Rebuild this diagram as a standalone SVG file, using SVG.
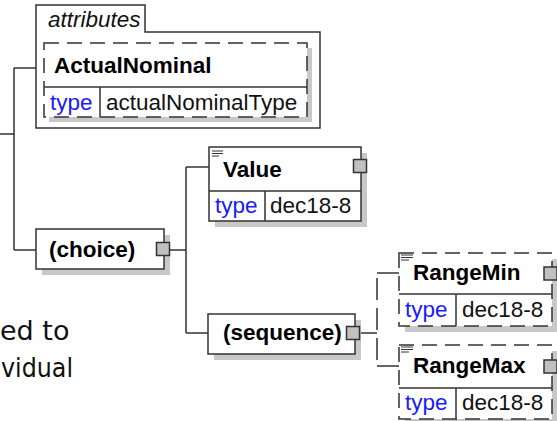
<svg xmlns="http://www.w3.org/2000/svg" width="557" height="421" viewBox="0 0 557 421">
<style>
.box{fill:#fff;stroke:#333;stroke-width:1.5}
.dbox{fill:#fff;stroke:#333;stroke-width:1.5;stroke-dasharray:15,8}
.shadow{fill:#c8c8c8;stroke:none}
.ln{fill:none;stroke:#333;stroke-width:1.5}
.dln{fill:none;stroke:#333;stroke-width:1.5;stroke-dasharray:22,8}
.sq{fill:#c0c0c0;stroke:#333;stroke-width:1.5}
.name{font-family:"Liberation Sans",Arial,sans-serif;font-weight:bold;font-size:22.5px;fill:#000}
.lbl{font-family:"Liberation Sans",Arial,sans-serif;font-size:22.5px;fill:#1a1aff}
.val{font-family:"Liberation Sans",Arial,sans-serif;font-size:22.5px;fill:#111}
.ital{font-family:"Liberation Sans",Arial,sans-serif;font-style:italic;font-size:22.5px;fill:#111}
.bg{font-family:"DejaVu Sans",Verdana,sans-serif;font-size:27px;fill:#111}
.ico{stroke:#333;stroke-width:1}
</style>

<g id="connectors">
  <path class="ln" d="M0,134 H14 M14,68 V250 M14,68 H36 M14,250 H36"/>
  <path class="ln" d="M170,250 H186 M186,167 V333 M186,167 H209 M186,333 H208"/>
  <path class="ln" d="M361,333 H377 M377,273 H399 M377,366 H399"/>
  <path class="dln" d="M377,273 V366" stroke-dashoffset="-5"/>
</g>

<g id="attributes">
  <path class="box" d="M36,128 V5 H145 V32 H320 V128 Z"/>
  <text class="ital" x="48" y="27">attributes</text>
</g>

<g id="ActualNominal">
  <rect class="shadow" x="49" y="48" width="263" height="74"/>
  <rect class="dbox" x="44" y="43" width="263" height="74"/>
  <path class="ln" d="M44,87 H307 M100,87 V117"/>
  <text class="name" x="54" y="73">ActualNominal</text>
  <text class="lbl" x="50" y="110">type</text>
  <text class="val" x="106" y="110">actualNominalType</text>
</g>

<g id="choice">
  <rect class="shadow" x="42" y="235" width="128" height="40"/>
  <rect class="box" x="36" y="229" width="128" height="40"/>
  <text class="name" x="49" y="257">(choice)</text>
  <rect class="sq" x="156.5" y="242.5" width="13" height="13"/>
</g>

<g id="Value">
  <rect class="shadow" x="215" y="153" width="152" height="74"/>
  <rect class="box" x="209" y="147" width="152" height="74"/>
  <path class="ln" d="M209,191 H361 M265,191 V221"/>
  <path class="ico" d="M212,151 H223 M212,153.5 H223 M212,156 H219"/>
  <text class="name" x="223" y="177">Value</text>
  <rect class="sq" x="353.5" y="159.5" width="13" height="13"/>
  <text class="lbl" x="215" y="213">type</text>
  <text class="val" x="270" y="213">dec18-8</text>
</g>

<g id="sequence">
  <rect class="shadow" x="214" y="320" width="147" height="40"/>
  <rect class="box" x="208" y="314" width="147" height="40"/>
  <text class="name" x="223" y="340">(sequence)</text>
  <rect class="sq" x="346.5" y="326.5" width="13" height="13"/>
</g>

<g id="RangeMin">
  <rect class="shadow" x="405" y="259" width="153" height="73"/>
  <rect class="dbox" x="399" y="253" width="153" height="73"/>
  <path class="ln" d="M399,294 H552 M456,294 V326"/>
  <path class="ico" d="M401,255 H413 M401,257.5 H413 M401,260 H409"/>
  <text class="name" x="413" y="280">RangeMin</text>
  <rect class="sq" x="544" y="267" width="13" height="13"/>
  <text class="lbl" x="405" y="317">type</text>
  <text class="val" x="462" y="317">dec18-8</text>
</g>

<g id="RangeMax">
  <rect class="shadow" x="405" y="351" width="153" height="74"/>
  <rect class="dbox" x="399" y="345" width="153" height="74"/>
  <path class="ln" d="M399,388 H552 M456,388 V419"/>
  <path class="ico" d="M401,347 H413 M401,349.5 H413 M401,352 H409"/>
  <text class="name" x="413" y="373">RangeMax</text>
  <rect class="sq" x="544" y="360" width="13" height="13"/>
  <text class="lbl" x="405" y="410">type</text>
  <text class="val" x="462" y="410">dec18-8</text>
</g>

<g id="background-text">
  <text class="bg" x="0" y="340">ed to</text>
  <text class="bg" x="1" y="377" textLength="72" lengthAdjust="spacingAndGlyphs">vidual</text>
</g>
</svg>
